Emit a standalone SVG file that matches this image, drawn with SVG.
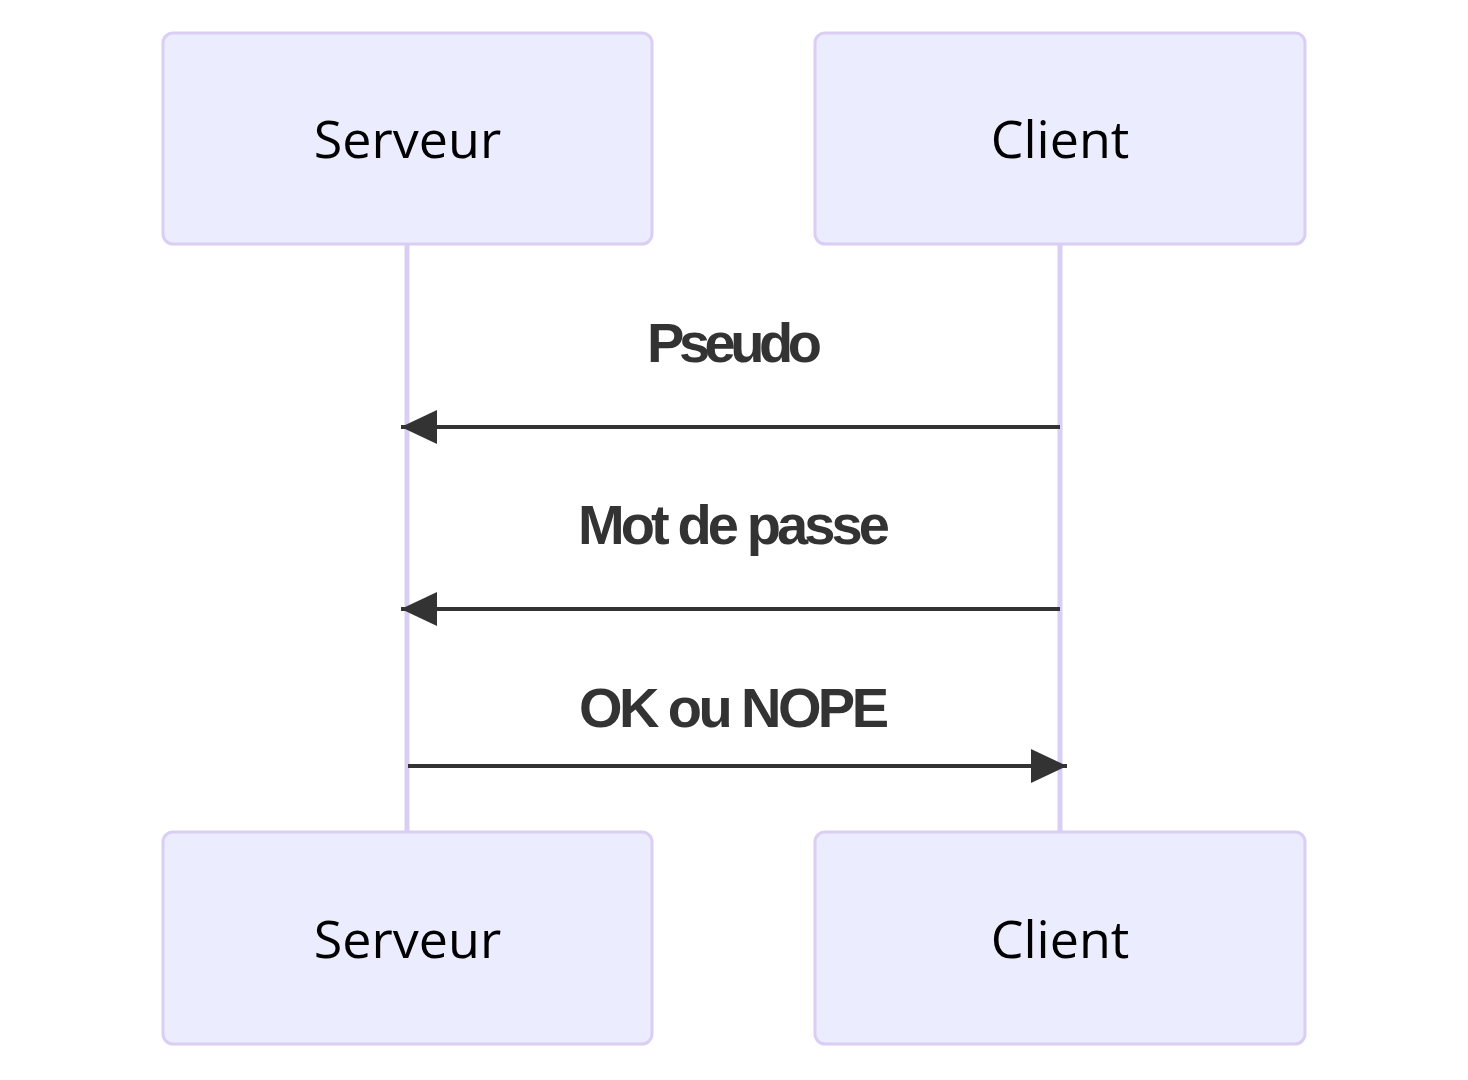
<svg xmlns="http://www.w3.org/2000/svg" width="1468" height="1080" viewBox="0 0 1468 1080">
<style>
.actor rect{fill:#ECECFF;stroke:#dacef3;stroke-width:3}
.actor text{font-family:"Open Sans","Noto Sans",sans-serif;font-size:52px;fill:#000;text-anchor:middle}
.life{stroke:#dacef3;stroke-width:5}
.msg{stroke:#333;stroke-width:4;fill:none}
.lbl{font-family:"Liberation Sans",Arial,sans-serif;font-weight:bold;font-size:56px;fill:#333;text-anchor:middle}
</style>
<defs>
<marker id="arr" markerUnits="userSpaceOnUse" markerWidth="40" markerHeight="40" refX="36" refY="17" orient="auto">
<path d="M0,0 L36,17 L0,34 Z" fill="#333"/>
</marker>
</defs>
<g id="lifelines">
<line class="life" x1="407" y1="244" x2="407" y2="832"/>
<line class="life" x1="1060" y1="244" x2="1060" y2="832"/>
</g>
<g id="actor-serveur-top" class="actor">
<rect x="163" y="33" width="489" height="211" rx="10"/>
<text x="407.5" y="158">Serveur</text>
</g>
<g id="actor-client-top" class="actor">
<rect x="815" y="33" width="490" height="211" rx="10"/>
<text x="1060" y="158">Client</text>
</g>
<g id="actor-serveur-bottom" class="actor">
<rect x="163" y="832" width="489" height="212" rx="10"/>
<text x="407.5" y="958">Serveur</text>
</g>
<g id="actor-client-bottom" class="actor">
<rect x="815" y="832" width="490" height="212" rx="10"/>
<text x="1060" y="958">Client</text>
</g>
<g id="connectors">
<line class="msg" x1="1060" y1="427" x2="401" y2="427" marker-end="url(#arr)"/>
<line class="msg" x1="1060" y1="609" x2="401" y2="609" marker-end="url(#arr)"/>
<line class="msg" x1="408" y1="766" x2="1067" y2="766" marker-end="url(#arr)"/>
<text class="lbl" x="734.5" y="362" textLength="175" lengthAdjust="spacing">Pseudo</text>
<text class="lbl" x="734" y="544" textLength="312" lengthAdjust="spacing">Mot de passe</text>
<text class="lbl" x="734" y="727" textLength="310" lengthAdjust="spacing">OK ou NOPE</text>
</g>
</svg>
